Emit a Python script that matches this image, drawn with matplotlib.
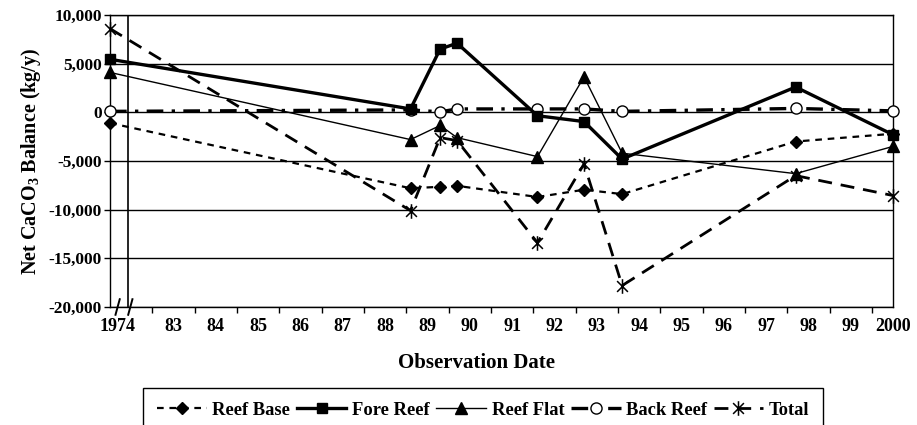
#!/usr/bin/env python3
"""
Net CaCO3 balance by reef zone, 1974 and 1988-2000.

Recreates the line chart with a broken x-axis (1974 squeezed in on the left).
"""

import matplotlib
matplotlib.use("Agg")
import matplotlib.pyplot as plt
import numpy as np
from matplotlib.path import Path

# Data
obs_years = [1974, 1988.6, 1989.3, 1989.7, 1991.6, 1992.7, 1993.6, 1997.7, 2000.0]
reef_base = [-1100, -7800, -7650, -7550, -8700, -7950, -8400, -3000, -2200]
fore_reef = [5450, 350, 6500, 7100, -350, -950, -4800, 2600, -2300]
reef_flat = [4100, -2800, -1350, -2600, -4550, 3650, -4200, -6300, -3500]
back_reef = [100, 250, 50, 350, 350, 350, 100, 400, 150]
total = [8600, -10100, -2600, -2900, -13400, -5300, -17800, -6500, -8550]

tick_years = list(range(1983, 2001))
tick_labels = ["1974"] + [str(y)[2:] for y in tick_years[:-1]] + ["2000"]

# 1974 sits left of the axis break
BREAK_POS = 1981.5


def plot_x(year):
	return BREAK_POS if year < 1980 else year


plt.rcParams["font.family"] = ["Liberation Serif", "DejaVu Serif"]
plt.rcParams["font.weight"] = "bold"
plt.rcParams["mathtext.fontset"] = "custom"
plt.rcParams["mathtext.rm"] = "Liberation Serif:bold"
plt.rcParams["mathtext.bf"] = "Liberation Serif:bold"

W, H = 917, 425
fig = plt.figure(figsize=(W / 100, H / 100), dpi=100)
ax = fig.add_axes([110 / W, 1 - 307 / H, (893 - 110) / W, (307 - 15) / H])

xs = [plot_x(y) for y in obs_years]

# asterisk marker: X plus vertical stroke
star = Path([(-1, -1), (1, 1), (-1, 1), (1, -1), (0, -1.35), (0, 1.35)],
			[Path.MOVETO, Path.LINETO, Path.MOVETO, Path.LINETO, Path.MOVETO, Path.LINETO])

ax.plot(xs, reef_base, color="black", lw=1.6, ls=(0, (3, 2.6)), marker="D",
		ms=6, mfc="black", mec="black", label="Reef Base", clip_on=False, zorder=3)
ax.plot(xs, fore_reef, color="black", lw=2.4, ls="-", marker="s",
		ms=7.5, mfc="black", mec="black", label="Fore Reef", clip_on=False, zorder=4)
ax.plot(xs, reef_flat, color="black", lw=1.0, ls="-", marker="^",
		ms=8, mfc="black", mec="black", label="Reef Flat", clip_on=False, zorder=3)
ax.plot(xs, back_reef, color="black", lw=2.4, ls=(0, (5, 2.5, 1, 2.5)), marker="o",
		ms=8, mfc="white", mec="black", mew=1.0, label="Back Reef", clip_on=False, zorder=3)
ax.plot(xs, total, color="black", lw=2.0, ls=(0, (5, 3.2)), marker=star,
		ms=10.5, mec="black", mew=1.1, label="Total", clip_on=False, zorder=3)

ax.set_xlim(1981.5, 2000.0)
ax.set_ylim(-20000, 10000)
ax.set_yticks(np.arange(-20000, 10001, 5000))
ax.set_yticklabels([f"{v:,}" for v in range(-20000, 10001, 5000)])
ax.yaxis.grid(True, color="black", lw=1.0)
ax.set_axisbelow(True)

ax.set_xticks([1981.68] + tick_years)
ax.set_xticklabels(tick_labels)
ax.set_xticks(np.arange(1982.5, 2000, 1.0), minor=True)
ax.tick_params(axis="x", which="major", length=0, pad=8, labelsize=13)
ax.tick_params(axis="x", which="minor", length=4, width=1, direction="out")
ax.tick_params(axis="y", which="major", length=4, width=1, direction="out",
			   pad=2, labelsize=12.5)

for side in ["left", "right", "top", "bottom"]:
	ax.spines[side].set_color("black")
	ax.spines[side].set_linewidth(1.0)

# second axis line after the break, plus the // marks
ax.axvline(1981.92, color="black", lw=1.2, zorder=2)
for bx in [1981.68, 1981.98]:
	ax.plot([bx - 0.05, bx + 0.05], [-20800, -19200], color="black", lw=1.4,
			clip_on=False, zorder=5)

ax.set_ylabel(r"Net CaCO$_3$ Balance (kg/y)", fontsize=14.5, fontweight="bold")
ax.yaxis.set_label_coords(-0.086, 0.5)

fig.text(477 / W, 1 - 363 / H, "Observation Date", ha="center", va="center",
		 fontsize=15, fontweight="bold")

leg = fig.legend(loc="upper left", bbox_to_anchor=(143 / W, 1 - 388 / H), ncol=5,
				 frameon=True, fancybox=False, edgecolor="black", framealpha=1,
				 prop={"size": 13.3, "weight": "bold"}, handlelength=2.7,
				 handletextpad=0.3, columnspacing=0.35, borderpad=0.75,
				 borderaxespad=0)
leg.get_frame().set_linewidth(1.0)

fig.savefig("out.png", dpi=100)
